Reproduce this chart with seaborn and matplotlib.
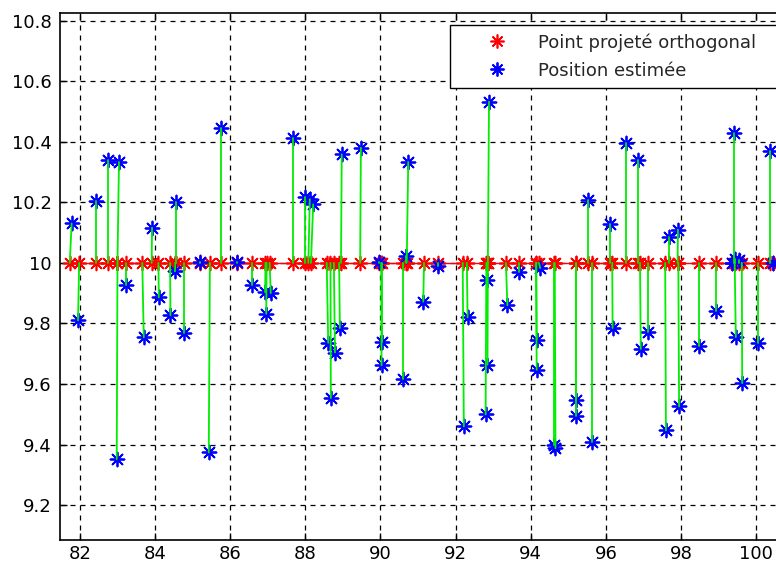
import numpy as np
import pandas as pd
import matplotlib
matplotlib.use("Agg")
import matplotlib.pyplot as plt
from matplotlib.lines import Line2D
from matplotlib.ticker import FuncFormatter
import seaborn as sns

# Data
x_proj = [81.73, 81.98, 82.44, 82.75, 83.00, 83.00, 83.22, 83.66, 83.91, 84.09,
          84.40, 84.57, 84.54, 84.77, 85.21, 85.46, 85.75, 86.19, 86.57, 86.94,
          86.97, 87.05, 87.66, 87.99, 88.08, 88.15, 88.57, 88.67, 88.76, 88.90,
          88.95, 89.46, 89.96, 90.03, 90.02, 90.59, 90.68, 90.70, 91.16, 91.52,
          92.19, 92.30, 92.86, 92.85, 92.86, 92.82, 93.34, 93.69, 94.22, 94.15,
          94.14, 94.62, 94.64, 95.20, 95.20, 95.52, 95.63, 96.11, 96.17, 96.53,
          96.85, 96.91, 97.11, 97.58, 97.69, 97.91, 97.93, 98.47, 98.93, 99.42,
          99.45, 99.54, 99.36, 99.43, 99.62, 100.05, 100.37, 100.44]
y_proj = [10.0] * len(x_proj)
x_est = [81.78, 81.95, 82.44, 82.75, 83.04, 82.98, 83.22, 83.70, 83.92, 84.10,
         84.41, 84.57, 84.53, 84.77, 85.21, 85.43, 85.75, 86.19, 86.57, 86.93,
         86.96, 87.08, 87.66, 87.99, 88.12, 88.21, 88.61, 88.68, 88.79, 88.92,
         88.97, 89.48, 89.96, 90.03, 90.03, 90.59, 90.68, 90.74, 91.14, 91.52,
         92.22, 92.32, 92.89, 92.85, 92.85, 92.80, 93.38, 93.69, 94.25, 94.16,
         94.16, 94.62, 94.66, 95.20, 95.20, 95.52, 95.63, 96.11, 96.18, 96.53,
         96.85, 96.93, 97.11, 97.60, 97.69, 97.92, 97.95, 98.47, 98.93, 99.42,
         99.45, 99.54, 99.36, 99.46, 99.63, 100.05, 100.37, 100.44]
y_est = [10.130, 9.810, 10.205, 10.340, 10.333, 9.352, 9.928, 9.754, 10.116, 9.886,
         9.827, 10.200, 9.972, 9.769, 10.003, 9.374, 10.444, 10.003, 9.928, 9.903,
         9.832, 9.900, 10.413, 10.218, 10.210, 10.193, 9.736, 9.554, 9.704, 9.785,
         10.358, 10.380, 10.003, 9.739, 9.662, 9.617, 10.022, 10.333, 9.872, 9.989,
         9.460, 9.820, 10.532, 9.945, 9.664, 9.500, 9.860, 9.969, 9.983, 9.746,
         9.647, 9.400, 9.388, 9.548, 9.496, 10.206, 9.407, 10.127, 9.785, 10.397,
         10.341, 9.716, 9.771, 9.447, 10.085, 10.110, 9.526, 9.724, 9.842, 10.430,
         10.013, 10.011, 10.000, 9.755, 9.603, 9.736, 10.369, 10.000]

x_ticks = [82, 84, 86, 88, 90, 92, 94, 96, 98, 100]
y_ticks = [9.2, 9.4, 9.6, 9.8, 10.0, 10.2, 10.4, 10.6, 10.8]
labels = ["Point projeté orthogonal", "Position estimée"]

sns.set_style("white")
plt.rcParams["font.family"] = ["DejaVu Sans"]

fig = plt.figure(figsize=(7.76, 5.64), dpi=100)
ax = fig.add_axes([60 / 776, 1 - 540 / 564, 1 - 60 / 776, (540 - 13) / 564])

df_p = pd.DataFrame({"x": x_proj, "y": y_proj}).sort_values("x")
df_e = pd.DataFrame({"x": x_est, "y": y_est})

ast = (8, 2, 0)
# red line + markers
sns.lineplot(data=df_p, x="x", y="y", estimator=None, sort=True, color="red",
             lw=1.0, ax=ax, zorder=3)
sns.scatterplot(data=df_p, x="x", y="y", marker=ast, s=100, color="red",
                linewidth=1.2, ax=ax, zorder=4)
# blue markers
sns.scatterplot(data=df_e, x="x", y="y", marker=ast, s=100, color="blue",
                linewidth=1.3, ax=ax, zorder=5)
# green connecting segments
for xp, yp, xe, ye in zip(x_proj, y_proj, x_est, y_est):
    ax.plot([xp, xe], [yp, ye], color="#00ee00", lw=1.3, zorder=6)

ax.set_xlim(81.47, 100.53)
ax.set_ylim(9.085, 10.825)
ax.set_xticks(x_ticks)
ax.set_yticks(y_ticks)
ax.yaxis.set_major_formatter(FuncFormatter(lambda v, p: f"{v:g}"))
ax.set_xlabel("")
ax.set_ylabel("")
ax.grid(True, color="black", linestyle=(0, (4, 4)), linewidth=0.9)
ax.tick_params(direction="in", length=5, width=1, labelsize=13, colors="black",
               top=True, right=False, left=True, bottom=True)
ax.tick_params(axis="x", pad=3.5)
ax.tick_params(axis="y", pad=6)
for s in ["left", "bottom", "top"]:
    ax.spines[s].set_color("black")
    ax.spines[s].set_linewidth(1.2)
ax.spines["right"].set_visible(False)

handles = [Line2D([], [], color="red", marker=ast, linestyle="none", markersize=10, mew=1.2),
           Line2D([], [], color="blue", marker=ast, linestyle="none", markersize=10, mew=1.3)]
leg = fig.legend(handles, labels, loc="upper left",
                 bbox_to_anchor=(450 / 776, 1 - 25 / 564, 340 / 776, 0.0),
                 bbox_transform=fig.transFigure, mode="expand",
                 fontsize=13, frameon=True, fancybox=False, framealpha=1,
                 edgecolor="black", borderpad=0.45, labelspacing=0.55,
                 handletextpad=0.1, handlelength=4.3, borderaxespad=0)
leg.get_frame().set_linewidth(1.0)

fig.savefig("out.png", dpi=100)
